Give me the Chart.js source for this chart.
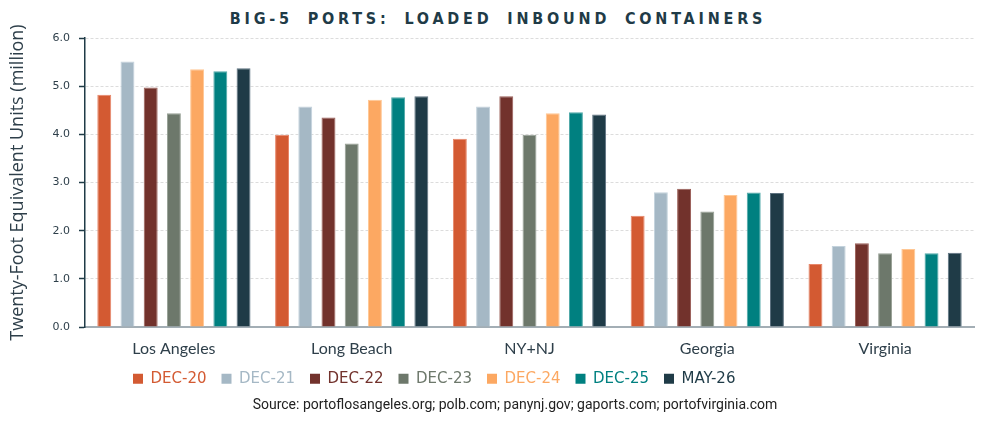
<!DOCTYPE html>
<html>
<head>
<meta charset="utf-8">
<script src="https://cdn.jsdelivr.net/npm/chart.js@4.4.0/dist/chart.umd.min.js"></script>
<style>
    html, body { margin: 0; padding: 0; background: #fff; }
    #wrap { position: relative; width: 996px; height: 423px; }
    #title {
        position: absolute; top: 9px; left: 0; width: 996px;
        text-align: center;
        font: bold 16px "DejaVu Sans Condensed", "DejaVu Sans", sans-serif;
        letter-spacing: 3.8px; word-spacing: 6px;
        color: #1F3B47;
    }
    canvas { position: absolute; top: 0; left: 0; }
</style>
</head>
<body>
<div id="wrap">
    <div id="title">BIG-5 PORTS: LOADED INBOUND CONTAINERS</div>
    <canvas id="portsChart" width="996" height="423"></canvas>
</div>
<script>
// Chart data (million TEU)
const ports = ['Los Angeles', 'Long Beach', 'NY+NJ', 'Georgia', 'Virginia'];
const periods = ['DEC-20', 'DEC-21', 'DEC-22', 'DEC-23', 'DEC-24', 'DEC-25', 'MAY-26'];

const dec20 = [4.82, 3.99, 3.91, 2.31, 1.31];
const dec21 = [5.51, 4.58, 4.58, 2.80, 1.68];
const dec22 = [4.97, 4.35, 4.79, 2.87, 1.74];
const dec23 = [4.44, 3.81, 3.99, 2.40, 1.53];
const dec24 = [5.35, 4.72, 4.44, 2.74, 1.62];
const dec25 = [5.31, 4.77, 4.46, 2.79, 1.53];
const may26 = [5.37, 4.79, 4.41, 2.78, 1.54];

const yTicks = ['0.0', '1.0', '2.0', '3.0', '4.0', '5.0', '6.0'];

const seriesValues = [dec20, dec21, dec22, dec23, dec24, dec25, may26];
const fillColors = ['#D35A32', '#A5B8C5', '#72322C', '#6D786B', '#FCA862', '#008080', '#1F3B47'];
const edgeColors = ['#E8876A', '#C3D2DC', '#9A5E57', '#97A095', '#FFC794', '#4FA8A8', '#5D7280'];

const textColor = '#2E3F4A';

// Move legend / source line to their places under the plot
const shiftBoxes = {
    id: 'shiftBoxes',
    afterLayout(chart) {
        chart.boxes.forEach(box => {
            let dx = 0, dy = 0;
            if (box === chart.legend) { dx = 118; dy = -6; }
            else if (box.options && box.options.text && String(box.options.text).startsWith('Source')) { dx = 28; dy = -7; }
            if (dx || dy) {
                box.left += dx;
                box.right += dx;
                box.top += dy;
                box.bottom += dy;
            }
        });
    }
};

const ctx = document.getElementById('portsChart').getContext('2d');

new Chart(ctx, {
    type: 'bar',
    data: {
        labels: ports,
        datasets: periods.map((p, i) => ({
            label: p,
            data: seriesValues[i],
            backgroundColor: fillColors[i],
            borderColor: edgeColors[i],
            borderWidth: 1,
            barPercentage: 0.6,
            categoryPercentage: 0.914
        }))
    },
    options: {
        responsive: false,
        animation: false,
        layout: {
            padding: { top: 38, right: 22, bottom: -2, left: 0 }
        },
        plugins: {
            title: { display: false },
            tooltip: { enabled: false },
            legend: {
                position: 'bottom',
                align: 'start',
                labels: {
                    boxWidth: 10,
                    boxHeight: 10,
                    padding: 15,
                    font: { family: 'DejaVu Sans', size: 15 },
                    generateLabels(chart) {
                        const items = Chart.defaults.plugins.legend.labels.generateLabels(chart);
                        items.forEach((item, i) => {
                            item.fillStyle = fillColors[i];
                            item.strokeStyle = fillColors[i];
                            item.lineWidth = 0;
                            item.fontColor = fillColors[i];
                        });
                        return items;
                    }
                }
            },
            subtitle: {
                display: true,
                position: 'bottom',
                text: 'Source: portoflosangeles.org; polb.com; panynj.gov; gaports.com; portofvirginia.com',
                color: '#222',
                font: { family: 'Roboto', size: 14 },
                padding: { top: 2, bottom: 4 }
            }
        },
        scales: {
            x: {
                grid: { display: false },
                border: { display: true, color: '#A3AEB5', width: 2 },
                ticks: {
                    color: textColor,
                    padding: 4,
                    font: { family: 'Lato', size: 16 }
                }
            },
            y: {
                min: 0,
                max: 6,
                afterFit(scale) { scale.width = 85; },
                ticks: {
                    stepSize: 1,
                    padding: 9,
                    color: textColor,
                    font: { family: 'DejaVu Sans', size: 11 },
                    callback: (v, i) => yTicks[i]
                },
                grid: {
                    color: '#DCDCDC',
                    lineWidth: 1,
                    tickColor: '#1F3B47',
                    tickLength: 6,
                    tickWidth: 1.5,
                    tickBorderDash: []
                },
                border: { display: true, color: '#1F3B47', width: 1.5, dash: [3, 2] },
                title: {
                    display: true,
                    text: 'Twenty-Foot Equivalent Units (million)',
                    color: textColor,
                    font: { family: 'Open Sans', size: 18 },
                    padding: { top: 7, bottom: 4 }
                }
            }
        }
    },
    plugins: [shiftBoxes]
});
</script>
</body>
</html>
